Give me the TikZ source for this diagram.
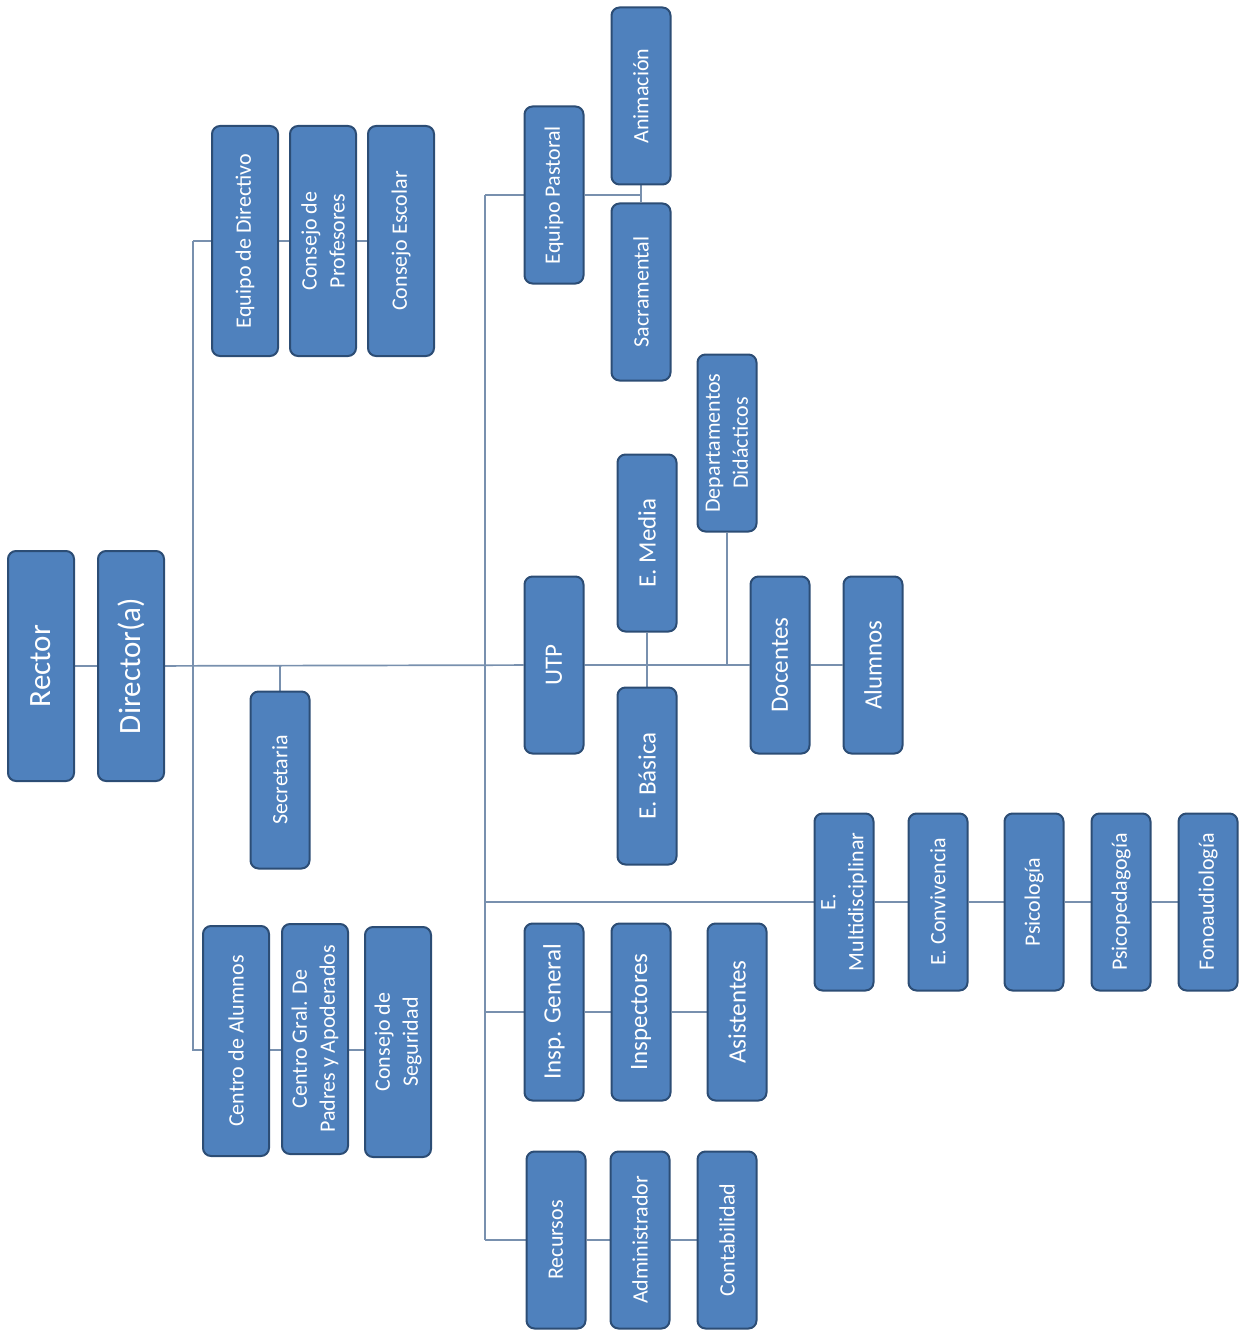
\documentclass[tikz,border=0pt]{standalone}
\usepackage{fontspec}
\setmainfont{Carlito}
\usetikzlibrary{backgrounds}
\definecolor{boxblue}{RGB}{79,129,189}
\definecolor{boxline}{RGB}{44,77,117}
\definecolor{linkgray}{RGB}{120,144,174}

\begin{document}
\begin{tikzpicture}[x=1pt, y=-1pt,
    unit/.style={rectangle, draw=boxline, fill=boxblue, line width=2pt, rounded corners=8pt,
        text=white, rotate=90, align=center, inner sep=2pt, font=\fontsize{22}{28}\selectfont},
    long/.style={unit, minimum width=230pt, minimum height=66pt},
    short/.style={unit, minimum width=177pt, minimum height=59pt},
    bigtext/.style={font=\fontsize{31}{33}\selectfont},
    midtext/.style={font=\fontsize{25}{28}\selectfont},
    link/.style={draw=linkgray, line width=1.7pt}
]
    \useasboundingbox (0,0) rectangle (1241,1332);

    % Head
    \node[long, bigtext] (rector) at (41,666) {Rector};
    \node[long, bigtext] (director) at (131,666) {Director(a)};

    % Left branch
    \node[long] (equipodir) at (245,241) {Equipo de Directivo};
    \node[long] (consejoprof) at (323,241) {Consejo de\\Profesores};
    \node[long] (consejoesc) at (401,241) {Consejo Escolar};
    \node[short] (secretaria) at (280,780) {Secretaria};
    \node[long] (centroalum) at (236,1041) {Centro de Alumnos};
    \node[long] (centrogral) at (315,1039) {Centro Gral. De\\Padres y Apoderados};
    \node[long] (consejoseg) at (398,1042) {Consejo de\\Seguridad};

    % Pastoral
    \node[short] (pastoral) at (554,195) {Equipo Pastoral};
    \node[short] (animacion) at (641,96) {Animación};
    \node[short] (sacramental) at (641,292) {Sacramental};

    % UTP
    \node[short] (deptos) at (727,443) {Departamentos\\Didácticos};
    \node[short, midtext] (utp) at (554,665) {UTP};
    \node[short, midtext] (emedia) at (647,543) {E. Media};
    \node[short, midtext] (ebasica) at (647,776) {E. Básica};
    \node[short, midtext] (docentes) at (780,665) {Docentes};
    \node[short, midtext] (alumnos) at (873,665) {Alumnos};

    % Multidisciplinar
    \node[short] (emulti) at (844,902) {E.\\Multidisciplinar};
    \node[short] (econv) at (938,902) {E. Convivencia};
    \node[short] (psico) at (1034,902) {Psicología};
    \node[short] (psicoped) at (1121,902) {Psicopedagogía};
    \node[short] (fono) at (1208,902) {Fonoaudiología};

    % Inspectoria
    \node[short, midtext] (inspgen) at (554,1012) {Insp. General};
    \node[short, midtext] (inspectores) at (641,1012) {Inspectores};
    \node[short, midtext] (asistentes) at (737,1012) {Asistentes};

    % Recursos
    \node[short] (recursos) at (556,1240) {Recursos};
    \node[short] (admin) at (640,1240) {Administrador};
    \node[short] (conta) at (727,1240) {Contabilidad};

    % Trunks
    \coordinate (ltrunk) at (193,666);
    \coordinate (rtrunk) at (485,666);
    \coordinate (cbot) at (193,1050);

    % Connections
    \begin{scope}[on background layer]
        \draw[link] (rector) -- (director);
        \draw[link] (director) -- (utp) -- (docentes) -- (alumnos);
        \draw[link] (secretaria) -- (secretaria |- director);

        \draw[link] (equipodir -| ltrunk) -- (equipodir) -- (consejoprof) -- (consejoesc);
        \draw[link] (equipodir -| ltrunk) -- (cbot) -- (cbot -| consejoseg);

        \draw[link] (pastoral -| rtrunk) -- (recursos -| rtrunk);
        \draw[link] (pastoral -| rtrunk) -- (pastoral) -- (pastoral -| animacion);
        \draw[link] (animacion) -- (sacramental);

        \draw[link] (emedia) -- (ebasica);
        \draw[link] (deptos) -- (deptos |- utp);

        \draw[link] (emulti -| rtrunk) -- (emulti) -- (econv) -- (psico) -- (psicoped) -- (fono);
        \draw[link] (inspgen -| rtrunk) -- (inspgen) -- (inspectores) -- (asistentes);
        \draw[link] (recursos -| rtrunk) -- (recursos) -- (admin) -- (conta);
    \end{scope}
\end{tikzpicture}
\end{document}
